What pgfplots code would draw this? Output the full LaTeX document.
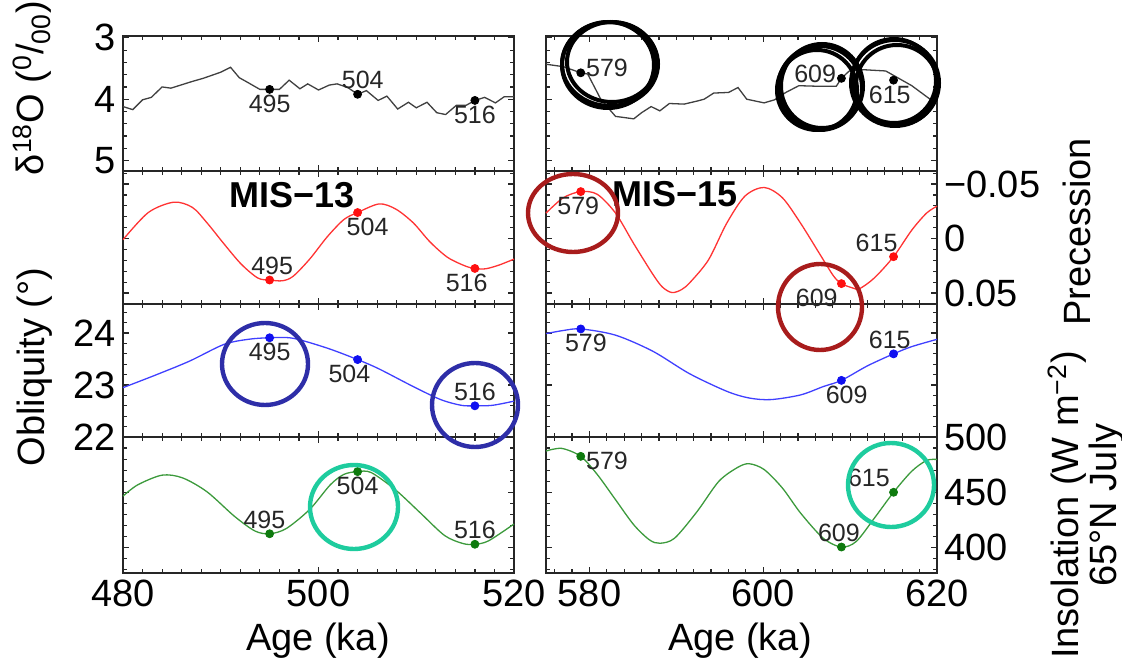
\documentclass[border=0pt]{standalone}
\usepackage{pgfplots}
\pgfplotsset{compat=1.18}
\usepackage{fontspec}
\setmainfont{Liberation Sans}

\definecolor{isoline}{HTML}{404040}
\definecolor{precline}{HTML}{FF3333}
\definecolor{precdot}{HTML}{FF1010}
\definecolor{oblline}{HTML}{4040FF}
\definecolor{obldot}{HTML}{1010F0}
\definecolor{insline}{HTML}{3C9A3C}
\definecolor{insdot}{HTML}{0E7A0E}
\definecolor{ringred}{HTML}{A81C1C}
\definecolor{ringblue}{HTML}{2E2EA8}
\definecolor{ringteal}{HTML}{1ECC9E}

\pgfplotsset{
  panel/.style={
    scale only axis, width=195.5pt, anchor=north west, clip=false,
    scaled x ticks=false, scaled y ticks=false,
    axis line style={line width=0.9pt, black!85},
    tick style={black!85, line width=0.6pt},
    tick align=inside, major tick length=3.2pt, minor tick length=1.8pt,
    tick label style={font=\fontsize{19}{19}\selectfont, text=black},
    xticklabels={}, yticklabels={},
  },
  leftcol/.style={at={(61.5pt,#1)}, xmin=480, xmax=520,
    xtick={480,500,520}, minor xtick={482,484,...,518}},
  rightcol/.style={at={(273pt,#1)}, xmin=575, xmax=620,
    xtick={580,600,620}, minor xtick={576,578,...,618}},
  isopanel/.style={height=67.5pt, ymin=2.97, ymax=5.17, y dir=reverse,
    ytick={3,4,5}, minor ytick={3.2,3.4,...,5.1}},
  precpanel/.style={height=66.5pt, ymin=-0.062, ymax=0.06, y dir=reverse,
    ytick={-0.05,0,0.05}, minor ytick={-0.06,-0.04,-0.03,-0.02,-0.01,0.01,0.02,0.03,0.04,0.06}},
  oblpanel/.style={height=66.5pt, ymin=22, ymax=24.56,
    ytick={22,23,24}, minor ytick={22.2,22.4,...,24.5}},
  inspanel/.style={height=68pt, ymin=377, ymax=500,
    ytick={400,450,500}, minor ytick={380,390,...,490}},
  curve/.style={line width=0.65pt, #1},
  dots/.style={only marks, mark=*, mark size=2pt, #1,
    nodes near coords, point meta=explicit symbolic,
    visualization depends on={value \thisrow{a}\as\anc},
    every node near coord/.append style={anchor=\anc, text=black!85,
      inner sep=2.5pt, font=\fontsize{12.5}{12.5}\selectfont}},
}

\begin{document}
\begin{tikzpicture}
\useasboundingbox (0,0) rectangle (561pt,334.5pt);

% ---------------- d18O ----------------
\begin{axis}[panel, leftcol=316.5pt, isopanel, yticklabels={3,4,5}]
\addplot[curve=isoline] table {
x y
480 4.12
481 4.17
482 4.01
482.9 3.97
484 3.80
484.9 3.82
486.1 3.76
487.1 3.71
488.2 3.66
490 3.56
491 3.48
491.9 3.65
492.8 3.73
494 3.84
495 3.84
496 3.84
497 3.69
498.1 3.83
498.9 3.75
500 3.85
501.1 3.77
501.9 3.75
503 3.81
504 3.92
504.9 3.86
506.1 4.02
507 3.95
508.1 4.16
509.2 4.05
510 4.14
511.1 4.05
512.1 4.22
513 4.25
514.1 4.10
515.1 4.10
516 4.02
517 3.97
518.1 4.06
519 3.96
520 3.96
};
\addplot[dots=black] table[meta=l] {
x y l a
495 3.84 495 90
504 3.92 504 250
516 4.02 516 90
};
\end{axis}

\begin{axis}[panel, rightcol=316.5pt, isopanel]
\addplot[curve=isoline] table {
x y
575 3.43
577 3.47
579 3.57
579.8 3.59
581.3 4.00
583 4.28
585.1 4.32
586 4.22
587.1 4.12
588.1 4.19
589.2 4.07
590.9 4.08
592.4 4.03
593.2 4.00
594.3 3.90
596 3.89
597.1 3.81
598.1 4.00
600.1 4.06
601.3 4.01
602.6 3.89
604.1 3.78
606.5 3.79
608.4 3.79
609 3.66
609.9 3.54
611.6 3.52
614.1 3.54
617.1 3.78
619.2 4.00
620 4.05
};
\addplot[dots=black] table[meta=l] {
x y l a
579 3.57 579 190
609 3.66 609 350
615 3.69 615 75
};
\end{axis}

% ---------------- precession ----------------
\begin{axis}[panel, leftcol=249pt, precpanel]
\addplot[curve=precline, smooth] table {
x y
480 0.001
482.6 -0.024
485.2 -0.0334
487.1 -0.0286
488.6 -0.0144
490.3 0.0045
492.1 0.0235
493.8 0.0362
495 0.038
496.3 0.0387
497.4 0.0346
499.1 0.0188
500.9 -0.0017
502.6 -0.0175
504 -0.0239
506.2 -0.0318
507.9 -0.0271
509.7 -0.0144
511.4 0.003
513.2 0.0172
515 0.0251
516 0.0274
517.1 0.0277
518.5 0.0242
520 0.0188
};
\addplot[dots=precdot] table[meta=l] {
x y l a
495 0.038 495 260
504 -0.0239 504 125
516 0.0274 516 60
};
\end{axis}

\begin{axis}[panel, rightcol=249pt, precpanel, yticklabel pos=right,
  yticklabels={−0.05,0,0.05}]
\addplot[curve=precline, smooth] table {
x y
575 -0.0234
577 -0.0375
579 -0.0431
580.9 -0.0406
583 -0.0234
585.1 0.0047
587.3 0.0328
588.4 0.0445
589.5 0.0495
590.6 0.0468
591.6 0.040
593.7 0.0195
595.8 -0.0141
597.9 -0.039
600.1 -0.0469
602.2 -0.0375
604.3 -0.0141
606.5 0.0141
608.1 0.0344
609 0.0413
610.3 0.0453
611.1 0.0459
612.8 0.036
615 0.0166
617.1 -0.0078
618.8 -0.0234
620 -0.0297
};
\addplot[dots=precdot] table[meta=l] {
x y l a
579 -0.0431 579 80
609 0.0413 609 30
615 0.0166 615 320
};
\end{axis}

% ---------------- obliquity ----------------
\begin{axis}[panel, leftcol=182.5pt, oblpanel, yticklabels={22,23,24}]
\addplot[curve=oblline, smooth] table {
x y
480 22.95
483.3 23.19
486.8 23.46
490.3 23.78
492.8 23.88
495 23.91
497.4 23.90
500.9 23.71
504 23.49
506.2 23.31
509.7 22.97
512.5 22.72
514.6 22.61
516 22.60
517.8 22.61
520 22.69
};
\addplot[dots=obldot] table[meta=l] {
x y l a
495 23.91 495 90
504 23.49 504 60
516 22.60 516 270
};
\end{axis}

\begin{axis}[panel, rightcol=182.5pt, oblpanel]
\addplot[curve=oblline, smooth] table {
x y
575 23.99
577 24.05
579 24.08
583 23.96
587.3 23.65
591.5 23.22
595.8 22.88
598.4 22.75
600.9 22.72
604.3 22.81
606.9 22.97
609 23.09
612 23.37
615 23.60
617.1 23.74
620 23.88
};
\addplot[dots=obldot] table[meta=l] {
x y l a
579 24.08 579 110
609 23.09 609 110
615 23.60 615 285
};
\end{axis}

% ---------------- insolation ----------------
\begin{axis}[panel, leftcol=116pt, inspanel, xticklabels={480,500,520}]
\addplot[curve=insline, smooth] table {
x y
480 446.5
481.5 456.7
484 465.5
486.1 463.0
488.6 450.4
491.4 428.3
493.5 415.0
495 412.5
496.7 417.2
499.1 434.5
501.2 456.7
502.6 466.2
504 468.7
505.4 467.8
507.9 452.0
510.4 431.5
512.9 410.9
514.8 403.6
516 403.0
517.4 406.1
520 421.3
};
\addplot[dots=insdot] table[meta=l] {
x y l a
495 412.5 495 290
504 468.7 504 90
516 403.0 516 270
};
\end{axis}

\begin{axis}[panel, rightcol=116pt, inspanel, xticklabels={580,600,620},
  yticklabel pos=right, yticklabels={400,450,500}]
\addplot[curve=insline, smooth] table {
x y
575 487.3
576.8 489.7
579 482.5
580.9 466.1
583 443.3
585.1 420.6
586.9 407.0
588.1 403.9
589.8 408.5
592.4 432.7
594.9 460.0
597.1 472.7
598.4 475.8
600.1 470.6
602.2 453.9
604.3 431.2
606.9 408.5
609 400.5
610.7 405.5
612.8 426.7
615 450.0
617.1 469.1
618.8 478.8
620 479.7
};
\addplot[dots=insdot] table[meta=l] {
x y l a
579 482.5 579 170
609 400.5 609 280
615 450.0 615 330
};
\end{axis}

% ---------------- labels and highlight rings (pixel grid) ----------------
\begin{scope}[x=0.5pt, y=-0.5pt, shift={(0,334.5pt)}]
  \node[rotate=90, font=\fontsize{19}{19}\selectfont] at (32,88)
    {δ\textsuperscript{18}O (\textsuperscript{0}/\textsubscript{00})};
  \node[rotate=90, font=\fontsize{19}{19}\selectfont] at (35,367) {Obliquity (°)};
  \node[rotate=90, font=\fontsize{19}{19}\selectfont] at (1077,232) {Precession};
  \node[rotate=90, align=center, font=\fontsize{19}{14}\selectfont, inner sep=0pt] at (1086,505)
    {Insolation (W m\textsuperscript{−2})\\65°N July};
  \node[font=\fontsize{19}{19}\selectfont] at (318,641) {Age (ka)};
  \node[font=\fontsize{19}{19}\selectfont] at (740,641) {Age (ka)};
  \node[font=\fontsize{18}{18}\selectfont\bfseries] at (292,195) {MIS−13};
  \node[font=\fontsize{18}{18}\selectfont\bfseries] at (675,194) {MIS−15};

  \begin{scope}[line width=2pt, black]
    \draw (610,64) ellipse [x radius=24pt, y radius=21pt];
    \draw (612,62) ellipse [x radius=22.5pt, y radius=20pt];
    \draw (608,65) ellipse [x radius=23pt, y radius=21.5pt];
    \draw (820,88) ellipse [x radius=21pt, y radius=21pt];
    \draw (817,90) ellipse [x radius=20pt, y radius=20pt];
    \draw (822,86) ellipse [x radius=20.5pt, y radius=21pt];
    \draw (895,83) ellipse [x radius=22pt, y radius=21.5pt];
    \draw (897,85) ellipse [x radius=20.5pt, y radius=20pt];
    \draw (894,81) ellipse [x radius=21pt, y radius=21pt];
  \end{scope}
  \begin{scope}[line width=2.2pt]
    \draw[ringred] (573,213) ellipse [x radius=22.5pt, y radius=19.5pt];
    \draw[ringred] (820,307) ellipse [x radius=21pt, y radius=21.5pt];
    \draw[ringblue] (265,364) ellipse [x radius=21.5pt, y radius=20.5pt];
    \draw[ringblue] (475,405) ellipse [x radius=21.5pt, y radius=21pt];
    \draw[ringteal] (354,507) ellipse [x radius=22pt, y radius=21pt];
    \draw[ringteal] (891,485) ellipse [x radius=21.5pt, y radius=21pt];
  \end{scope}
\end{scope}
\end{tikzpicture}
\end{document}
